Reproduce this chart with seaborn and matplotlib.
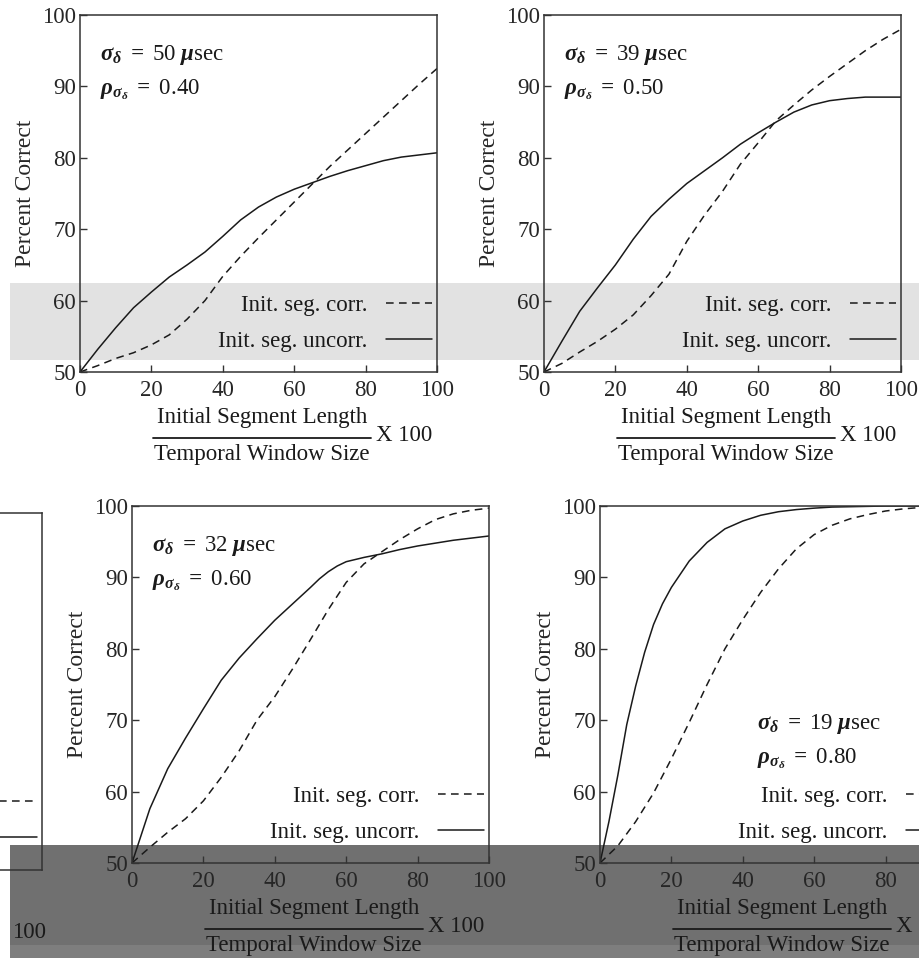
import matplotlib
matplotlib.use("Agg")
import matplotlib.pyplot as plt
from matplotlib.lines import Line2D
from matplotlib.patches import Rectangle
import numpy as np
import pandas as pd
import seaborn as sns

# datos (porcentaje correcto vs longitud relativa)
x = [0, 5, 10, 15, 20, 25, 30, 35, 40, 45, 50, 55, 60, 65, 70, 75, 80, 85, 90, 95, 100]

corr_a = [50, 50.9, 51.9, 52.7, 53.8, 55.2, 57.4, 60.0, 63.4, 66.2, 68.8, 71.3, 73.8,
          76.3, 78.8, 81.1, 83.4, 85.7, 88.0, 90.3, 92.5]
uncorr_a = [50, 53.2, 56.2, 59.0, 61.2, 63.3, 65.0, 66.8, 69.0, 71.3, 73.1, 74.5, 75.6,
            76.5, 77.4, 78.2, 78.9, 79.6, 80.1, 80.4, 80.7]

corr_b = [50, 51.2, 52.8, 54.3, 56.0, 58.0, 60.7, 63.7, 68.3, 72.0, 75.3, 79.1, 82.1,
          85.2, 87.4, 89.5, 91.4, 93.2, 95.0, 96.6, 98.0]
uncorr_b = [50, 54.3, 58.5, 61.8, 65.0, 68.6, 71.8, 74.2, 76.4, 78.2, 80.0, 81.9, 83.5,
            85.0, 86.4, 87.4, 88.0, 88.3, 88.5, 88.5, 88.5]

corr_c = [50, 52.2, 54.3, 56.2, 58.7, 62.0, 65.7, 70.0, 73.3, 77.2, 81.3, 85.5, 89.3,
          91.9, 93.6, 95.3, 96.8, 98.1, 98.9, 99.4, 99.7]
x_unc_c = [0, 5, 10, 15, 20, 25, 30, 35, 40, 45, 50, 52.5, 55, 57.5, 60, 65, 70, 75,
           80, 85, 90, 95, 100]
uncorr_c = [50, 57.6, 63.2, 67.5, 71.6, 75.6, 78.7, 81.4, 84.0, 86.3, 88.6, 89.8, 90.8,
            91.6, 92.2, 92.8, 93.3, 93.9, 94.4, 94.8, 95.2, 95.5, 95.8]

corr_d = [50, 52.4, 55.8, 59.8, 64.6, 69.7, 75.0, 80.0, 84.1, 87.9, 91.2, 94.0, 96.0,
          97.3, 98.2, 98.8, 99.3, 99.6, 99.8, 99.9, 100]
x_unc_d = [0, 2.5, 5, 7.5, 10, 12.5, 15, 17.5, 20, 25, 30, 35, 40, 45, 50, 55, 60, 65,
           70, 80, 90, 100]
uncorr_d = [50, 55.8, 62.3, 69.4, 74.8, 79.5, 83.4, 86.3, 88.6, 92.3, 94.9, 96.8, 97.9,
            98.7, 99.2, 99.5, 99.7, 99.85, 99.9, 100, 100, 100]

sigmas = ['50', '39', '32', '19']
rhos = ['0.40', '0.50', '0.60', '0.80']
series = [(x, corr_a, x, uncorr_a), (x, corr_b, x, uncorr_b),
          (x, corr_c, x_unc_c, uncorr_c), (x, corr_d, x_unc_d, uncorr_d)]

lab_corr = 'Init. seg. corr.'
lab_uncorr = 'Init. seg. uncorr.'
xticks = [0, 20, 40, 60, 80, 100]
yticks = [50, 60, 70, 80, 90, 100]

sns.set_style('ticks')
plt.rcParams['font.family'] = ['Liberation Serif', 'DejaVu Serif']
plt.rcParams['mathtext.fontset'] = 'custom'
plt.rcParams['mathtext.rm'] = 'Liberation Serif'
plt.rcParams['mathtext.it'] = 'Liberation Serif:italic'
plt.rcParams['mathtext.bf'] = 'Liberation Serif:italic:bold'
plt.rcParams['text.color'] = '#1a1a1a'

W, H = 920, 958
fig = plt.figure(figsize=(9.2, 9.58), dpi=100)

# bandas grises del escaneo
def banda(x0, y0, x1, y1, color):
    fig.patches.append(Rectangle((x0 / W, 1 - y1 / H), (x1 - x0) / W, (y1 - y0) / H,
                                 transform=fig.transFigure, facecolor=color,
                                 edgecolor='none', zorder=-5))

banda(10, 283, 920, 360, '#e2e2e2')
banda(10, 845, 920, 945, '#707070')
banda(10, 945, 920, 958, '#7e7e7e')

# posiciones en pixeles (izq, arriba)
pos = [(80, 15), (544, 15), (132, 506), (600, 506)]
size = 357
leg_kw = dict(loc='lower right', bbox_to_anchor=(0.985, 0.055), frameon=False,
              markerfirst=False, fontsize=16.5, handlelength=2.0, handletextpad=0.8,
              labelspacing=0.68, borderpad=0, borderaxespad=0)
dash = (5, 3.5)

def estilo(ax):
    ax.set_facecolor('none')
    for s in ax.spines.values():
        s.set_visible(True)
        s.set_color('#333333')
        s.set_linewidth(1.1)

for k in range(4):
    left, top = pos[k]
    ax = fig.add_axes([left / W, 1 - (top + size) / H, size / W, size / H])
    estilo(ax)
    xc, corr, xu, uncorr = series[k]
    df = pd.DataFrame({
        'x': list(xc) + list(xu),
        'pc': list(corr) + list(uncorr),
        'Curva': [lab_corr] * len(xc) + [lab_uncorr] * len(xu),
    })
    sns.lineplot(data=df, x='x', y='pc', style='Curva',
                 style_order=[lab_corr, lab_uncorr],
                 dashes={lab_corr: dash, lab_uncorr: ''},
                 color='#1a1a1a', linewidth=1.1, ax=ax)
    ax.set_xlim(0, 100)
    ax.set_ylim(50, 100)
    ax.set_xticks(xticks)
    ax.set_yticks(yticks)
    ax.tick_params(direction='in', length=5, width=1.0, labelsize=16.5, color='#333333',
                   top=False, right=False)
    ax.tick_params(axis='x', pad=6)
    ax.tick_params(axis='y', pad=3)
    ax.set_xlabel('')
    ax.set_ylabel('Percent Correct', fontsize=17, labelpad=4)

    h, l = ax.get_legend_handles_labels()
    ax.legend(h, l, **leg_kw)

    txt1 = r'$\mathbf{\sigma_{\delta}\ =}$ ' + sigmas[k] + r' $\mathbf{\mu}$sec'
    txt2 = r'$\mathbf{\rho_{\sigma_{\delta}}\ =}$ ' + rhos[k]
    if k < 3:
        ax.text(0.056, 0.887, txt1, transform=ax.transAxes, fontsize=16.5, va='center')
        ax.text(0.056, 0.79, txt2, transform=ax.transAxes, fontsize=16.5, va='center')
    else:
        ax.text(0.44, 0.39, txt1, transform=ax.transAxes, fontsize=16.5, va='center')
        ax.text(0.44, 0.292, txt2, transform=ax.transAxes, fontsize=16.5, va='center')

    # etiqueta en forma de fraccion
    ax.text(0.51, -0.128, 'Initial Segment Length', transform=ax.transAxes,
            fontsize=16.5, ha='center', va='center')
    ax.text(0.51, -0.23, 'Temporal Window Size', transform=ax.transAxes,
            fontsize=16.5, ha='center', va='center')
    ax.plot([0.205, 0.815], [-0.185, -0.185], transform=ax.transAxes, color='#1a1a1a',
            lw=1.3, clip_on=False)
    ax.text(0.83, -0.177, 'X 100', transform=ax.transAxes, fontsize=16.5,
            ha='left', va='center')

# panel vecino recortado a la izquierda
ax = fig.add_axes([(42 - size) / W, 1 - (513 + size) / H, size / W, size / H])
estilo(ax)
ax.set_xlim(0, 100)
ax.set_ylim(50, 100)
ax.set_xticks([])
ax.set_yticks([])
hh = [Line2D([], [], color='#1a1a1a', lw=1.1, dashes=dash),
      Line2D([], [], color='#1a1a1a', lw=1.1)]
ax.legend(hh, [lab_corr, lab_uncorr], **leg_kw)
fig.text(12 / W, 1 - 932 / H, '100', fontsize=16.5, va='center')

plt.savefig('out.png', dpi=100)
